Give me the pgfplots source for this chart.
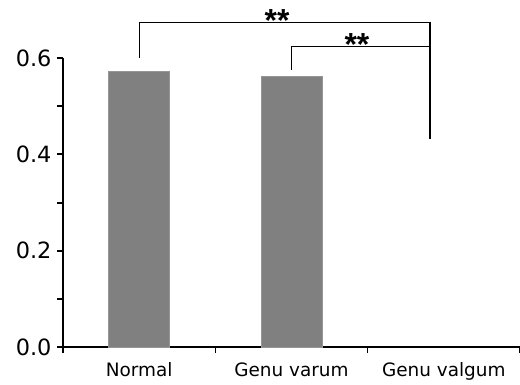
\documentclass[border=0pt]{standalone}
\usepackage{fontspec}
\setmainfont{DejaVu Sans}
\newfontfamily\starfont{Liberation Sans}
\usepackage{pgfplots}
\pgfplotsset{compat=1.18}
\begin{document}
\begin{tikzpicture}
\begin{axis}[
  scale only axis, width=457bp, height=289bp,
  xmin=-0.5, xmax=2.5, ymin=0, ymax=0.6,
  axis x line=bottom, axis y line=left,
  axis line style={line width=2bp, -},
  clip=false,
  tick align=outside,
  ytick={0,0.2,0.4,0.6},
  minor ytick={0.1,0.3,0.5},
  major tick length=6bp, minor tick length=6bp,
  tick style={line width=2bp, black},
  xtick={0,1,2},
  xticklabels={Normal, Genu varum, Genu valgum},
  major x tick style={draw=none},
  minor xtick={-0.5,0.5,1.5,2.5},
  minor x tick style={line width=1.6bp},
  /pgf/number format/fixed,
  /pgf/number format/fixed zerofill,
  /pgf/number format/precision=1,
  /pgf/number format/assume math mode=true,
  yticklabel style={font=\fontsize{22.5}{24}\selectfont, xshift=-2bp},
  xticklabel style={font=\fontsize{18.5}{20}\selectfont, yshift=-6bp},
]
\addplot[ybar, bar width=61bp, fill={rgb,255:red,128;green,128;blue,128}, draw={rgb,255:red,150;green,150;blue,150}, line width=0.5bp]
  coordinates {(0,0.572) (1,0.562)};
\draw[line width=1.3bp] (axis cs:0,0.600) -- (axis cs:0,0.673) -- (axis cs:1.909,0.673) -- (axis cs:1.909,0.432);
\draw[line width=1.3bp] (axis cs:1,0.575) -- (axis cs:1,0.624) -- (axis cs:1.909,0.624);
\node[font=\starfont\fontsize{32}{32}\bfseries\selectfont, anchor=base, inner sep=0pt] at (axis cs:0.905,0.656) {**};
\node[font=\starfont\fontsize{32}{32}\bfseries\selectfont, anchor=base, inner sep=0pt] at (axis cs:1.43,0.606) {**};
\end{axis}
\pgfresetboundingbox
\path[use as bounding box] ([shift={(-63bp,-38bp)}]current axis.south west) rectangle ++(520bp,385bp);
\end{tikzpicture}
\end{document}
